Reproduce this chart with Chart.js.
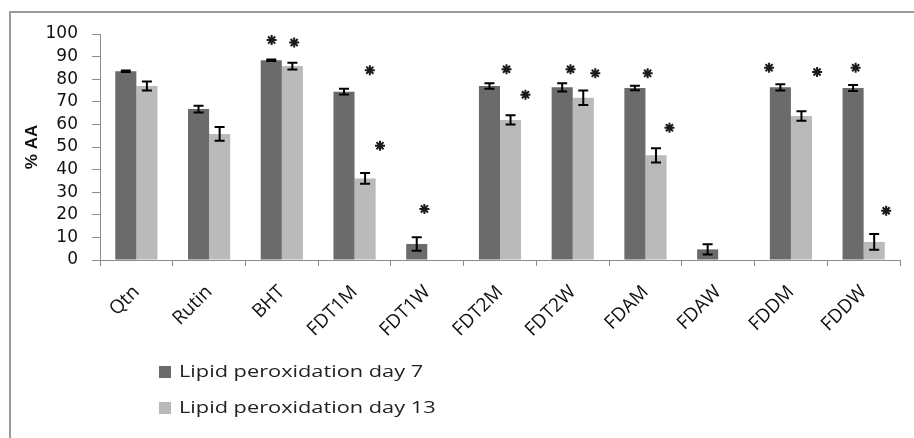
<!DOCTYPE html>
<html>
<head>
<meta charset="utf-8">
<script src="https://cdn.jsdelivr.net/npm/chart.js@4.4.0/dist/chart.umd.min.js"></script>
<style>
html, body { margin: 0; padding: 0; background: #fff; }
#wrap { width: 914px; height: 438px; position: relative; }
</style>
</head>
<body>
<div id="wrap"><canvas id="barChart"></canvas></div>
<script>
// samples
var categories = ["Qtn", "Rutin", "BHT", "FDT1M", "FDT1W", "FDT2M", "FDT2W", "FDAM", "FDAW", "FDDM", "FDDW"];

// % AA, day 7 and day 13
var day7 = [83.5, 66.8, 88.4, 74.5, 7.1, 77.0, 76.4, 76.1, 4.7, 76.4, 76.1];
var day7Err = [0.3, 1.5, 0.3, 1.3, 3.0, 1.2, 1.8, 1.0, 2.3, 1.4, 1.3];
var day13 = [77.0, 55.8, 85.8, 36.1, null, 62.0, 71.8, 46.3, null, 63.7, 8.0];
var day13Err = [2.0, 3.0, 1.5, 2.4, null, 2.0, 3.2, 3.2, null, 2.1, 3.5];

// significance marks (*): position in category units, height in % AA
var starPos = [1.86, 2.17, 3.21, 3.35, 3.96, 5.09, 5.35, 5.97, 6.31, 7.03, 7.33, 8.70, 9.36, 9.89, 10.31];
var starVal = [97.3, 96.2, 84.0, 50.6, 22.6, 84.4, 73.1, 84.4, 82.6, 82.6, 58.5, 85.1, 83.2, 85.1, 21.8];

var yMin = 0, yMax = 100, yStep = 10;

var axisGray = "#8c8c8c";

// frame round the chart (top and left only, like the source)
var framePlugin = {
    id: 'framePlugin',
    beforeDraw: function (chart) {
        var ctx = chart.ctx;
        ctx.save();
        ctx.strokeStyle = "#9a9a9a";
        ctx.lineWidth = 2;
        ctx.beginPath();
        ctx.moveTo(10, 438);
        ctx.lineTo(10, 12);
        ctx.lineTo(914, 12);
        ctx.stroke();
        ctx.restore();
    }
};

var errorBars = {
    id: 'errorBars',
    afterDatasetsDraw: function (chart) {
        var ctx = chart.ctx, yScale = chart.scales.y;
        [day7Err, day13Err].forEach(function (errs, d) {
            var meta = chart.getDatasetMeta(d);
            meta.data.forEach(function (bar, i) {
                var v = chart.data.datasets[d].data[i];
                if (v == null || errs[i] == null) return;
                var top = yScale.getPixelForValue(v + errs[i]);
                var bot = yScale.getPixelForValue(v - errs[i]);
                ctx.save();
                ctx.strokeStyle = "#000";
                ctx.lineWidth = 2;
                ctx.beginPath();
                ctx.moveTo(bar.x, top); ctx.lineTo(bar.x, bot);
                ctx.moveTo(bar.x - 5, top); ctx.lineTo(bar.x + 5, top);
                ctx.moveTo(bar.x - 5, bot); ctx.lineTo(bar.x + 5, bot);
                ctx.stroke();
                ctx.restore();
            });
        });
    }
};

// asterisks, placed through the x and y scales
var starMarks = {
    id: 'starMarks',
    afterDatasetsDraw: function (chart) {
        var ctx = chart.ctx, xs = chart.scales.x, ys = chart.scales.y;
        ctx.save();
        ctx.strokeStyle = "#1a1a1a";
        ctx.fillStyle = "#1a1a1a";
        ctx.lineWidth = 2;
        starPos.forEach(function (p, i) {
            Chart.helpers.drawPoint(ctx, {pointStyle: 'star', radius: 5, rotation: 0, borderWidth: 2},
                xs.getPixelForValue(p), ys.getPixelForValue(starVal[i]));
        });
        ctx.restore();
    }
};

// legend stacked under the axis labels
var legendBox = {
    id: 'legendBox',
    afterDraw: function (chart) {
        var ctx = chart.ctx;
        chart.data.datasets.forEach(function (ds, i) {
            var y = 372 + i * 36;
            ctx.save();
            ctx.fillStyle = ds.backgroundColor;
            ctx.fillRect(159, y - 6, 12, 12);
            ctx.translate(179, y);
            ctx.scale(1.28, 1);
            ctx.fillStyle = "#222";
            ctx.font = '17px "Open Sans"';
            ctx.textBaseline = 'middle';
            ctx.fillText(ds.label, 0, 0);
            ctx.restore();
        });
    }
};

var ctx = document.getElementById("barChart").getContext("2d");
new Chart(ctx, {
    type: 'bar',
    data: {
        labels: categories,
        datasets: [
            {
                label: "Lipid peroxidation day 7",
                data: day7,
                backgroundColor: "#6b6b6b",
                categoryPercentage: 0.58,
                barPercentage: 1.0
            },
            {
                label: "Lipid peroxidation day 13",
                data: day13,
                backgroundColor: "#bababa",
                categoryPercentage: 0.58,
                barPercentage: 1.0
            }
        ]
    },
    options: {
        responsive: true,
        maintainAspectRatio: false,
        animation: false,
        layout: { padding: { left: 10, top: 34, right: 14, bottom: 0 } },
        plugins: {
            legend: { display: false },
            tooltip: { enabled: false }
        },
        scales: {
            x: {
                type: 'category',
                offset: true,
                afterFit: function (axis) { axis.height = 178; },
                grid: { offset: true, drawOnChartArea: false, drawTicks: true, tickLength: 6, color: axisGray },
                border: { color: axisGray, width: 1 },
                ticks: {
                    minRotation: 45, maxRotation: 45, padding: 15,
                    color: "#111",
                    font: { family: '"Open Sans"', size: 19 }
                }
            },
            y: {
                min: yMin, max: yMax,
                afterFit: function (axis) { axis.width = 90; },
                grid: { drawOnChartArea: false, drawTicks: true, tickLength: 8, color: axisGray },
                border: { color: axisGray, width: 1 },
                ticks: {
                    stepSize: yStep, padding: 14, color: "#111", autoSkip: false,
                    font: { family: '"DejaVu Sans"', size: 17 }
                },
                title: {
                    display: true, text: "% AA", color: "#111", padding: { top: 12, bottom: 0 },
                    font: { family: '"Liberation Sans"', size: 17, weight: 'bold' }
                }
            }
        }
    },
    plugins: [framePlugin, errorBars, starMarks, legendBox]
});
</script>
</body>
</html>
